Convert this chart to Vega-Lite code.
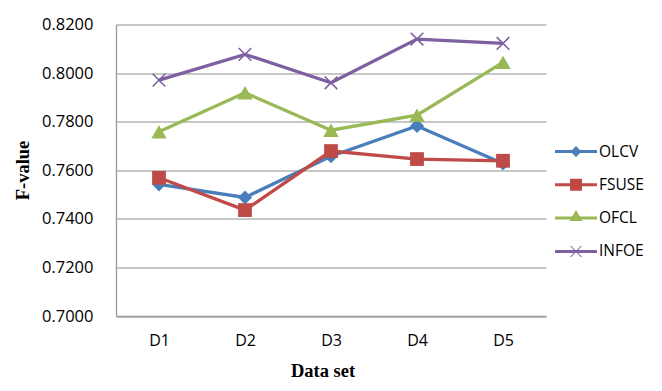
{
  "$schema": "https://vega.github.io/schema/vega-lite/v6.json",
  "width": 430,
  "height": 291.5,
  "autosize": {"type": "none"},
  "padding": {"left": 116, "top": 24.5, "right": 116, "bottom": 75},
  "background": "white",
  "config": {"view": {"stroke": null}},
  "data": {
    "values": [
      {"series": "OLCV", "dataset": "D1", "value": 0.7542},
      {"series": "OLCV", "dataset": "D2", "value": 0.7488},
      {"series": "OLCV", "dataset": "D3", "value": 0.7658},
      {"series": "OLCV", "dataset": "D4", "value": 0.7782},
      {"series": "OLCV", "dataset": "D5", "value": 0.7628},
      {"series": "FSUSE", "dataset": "D1", "value": 0.7569},
      {"series": "FSUSE", "dataset": "D2", "value": 0.7436},
      {"series": "FSUSE", "dataset": "D3", "value": 0.7679},
      {"series": "FSUSE", "dataset": "D4", "value": 0.7646},
      {"series": "FSUSE", "dataset": "D5", "value": 0.7639},
      {"series": "OFCL", "dataset": "D1", "value": 0.7758},
      {"series": "OFCL", "dataset": "D2", "value": 0.7919},
      {"series": "OFCL", "dataset": "D3", "value": 0.7765},
      {"series": "OFCL", "dataset": "D4", "value": 0.7827},
      {"series": "OFCL", "dataset": "D5", "value": 0.8044},
      {"series": "INFOE", "dataset": "D1", "value": 0.7971},
      {"series": "INFOE", "dataset": "D2", "value": 0.8077},
      {"series": "INFOE", "dataset": "D3", "value": 0.7960},
      {"series": "INFOE", "dataset": "D4", "value": 0.8140},
      {"series": "INFOE", "dataset": "D5", "value": 0.8122}
    ]
  },
  "encoding": {
    "x": {
      "field": "dataset", "type": "nominal",
      "scale": {"type": "point", "padding": 0.5},
      "axis": {
        "title": "Data set", "labelAngle": 0, "labelFont": "Open Sans", "labelFontSize": 16,
        "labelColor": "#000", "labelBaseline": "middle", "labelPadding": 24.5,
        "ticks": false, "tickSize": 0, "domainColor": "#9a9a9a", "domainWidth": 1.3, "grid": false,
        "titleFont": "Liberation Serif", "titleFontSize": 18.5, "titleFontWeight": "bold", "titleColor": "#000",
        "titleX": 206.5, "titleY": 60, "titleBaseline": "alphabetic", "titleAlign": "center"
      }
    },
    "y": {
      "field": "value", "type": "quantitative",
      "scale": {"domain": [0.7, 0.82], "zero": false, "nice": false},
      "axis": {
        "title": "F-value", "values": [0.7, 0.72, 0.74, 0.76, 0.78, 0.8, 0.82], "format": ".4f",
        "labelFont": "Open Sans", "labelFontSize": 16.5, "labelColor": "#000", "labelPadding": 23,
        "ticks": false, "tickSize": 0, "domainColor": "#9a9a9a", "domainWidth": 1.3,
        "gridColor": "#b5b5b5", "gridWidth": 1.3,
        "titleFont": "Liberation Serif", "titleFontSize": 18.5, "titleFontWeight": "bold", "titleColor": "#000",
        "titleAngle": -90, "titleX": -88, "titleY": 145.5, "titleAlign": "center", "titleBaseline": "alphabetic"
      }
    }
  },
  "layer": [
    {
      "mark": {"type": "line", "strokeWidth": 3.3},
      "encoding": {
        "color": {"field": "series", "type": "nominal",
          "scale": {"range": ["#be4b48", "#7d60a0", "#98b954", "#4a7ebb"]},
          "legend": null}
      }
    },
    {
      "transform": [{"filter": "datum.series === 'OLCV'"}],
      "mark": {"type": "point", "shape": "diamond", "filled": true, "size": 200, "opacity": 1},
      "encoding": {"color": {"field": "series", "type": "nominal", "legend": null}}
    },
    {
      "transform": [{"filter": "datum.series === 'FSUSE'"}],
      "mark": {"type": "point", "shape": "square", "filled": true, "size": 190, "opacity": 1},
      "encoding": {"color": {"field": "series", "type": "nominal", "legend": null}}
    },
    {
      "transform": [{"filter": "datum.series === 'OFCL'"}],
      "mark": {"type": "point", "shape": "triangle-up", "filled": true, "size": 240, "opacity": 1},
      "encoding": {"color": {"field": "series", "type": "nominal", "legend": null}}
    },
    {
      "transform": [{"filter": "datum.series === 'INFOE'"}],
      "mark": {"type": "point", "shape": "M-1,-1L1,1M-1,1L1,-1", "filled": false, "size": 160, "strokeWidth": 1.6, "opacity": 1},
      "encoding": {"color": {"field": "series", "type": "nominal", "legend": null}}
    },
    {
      "mark": {"type": "point", "filled": true, "opacity": 0},
      "encoding": {
        "fill": {"field": "series", "type": "nominal",
          "scale": {"domain": ["OLCV", "FSUSE", "OFCL", "INFOE"], "range": ["#4a7ebb", "#be4b48", "#98b954", "#7d60a0"]},
          "legend": {"title": null, "orient": "none", "legendX": 450, "legendY": 117, "symbolSize": 400, "symbolOpacity": 1,
            "symbolStrokeWidth": 0, "labelFont": "Open Sans", "labelFontSize": 15.5, "labelColor": "#000", "labelOffset": 13,
            "rowPadding": 14.3, "padding": 0}},
        "shape": {"field": "series", "type": "nominal",
          "scale": {"domain": ["OLCV", "FSUSE", "OFCL", "INFOE"], "range": [
            "M-2.1,-0.15H2.1V0.15H-2.1Z M0,-0.55L0.55,0L0,0.55L-0.55,0Z",
            "M-2.1,-0.15H2.1V0.15H-2.1Z M-0.6,-0.6H0.6V0.6H-0.6Z",
            "M-2.1,-0.15H2.1V0.15H-2.1Z M0,-0.8L0.65,0.3L-0.65,0.3Z",
            "M-2.1,-0.15H2.1V0.15H-2.1Z M-0.6,-0.55L-0.48,-0.55L0.6,0.55L0.48,0.55Z M0.48,-0.55L0.6,-0.55L-0.48,0.55L-0.6,0.55Z"
          ]},
          "legend": {"title": null, "orient": "none", "legendX": 450, "legendY": 117, "symbolSize": 400, "symbolOpacity": 1,
            "symbolStrokeWidth": 0, "labelFont": "Open Sans", "labelFontSize": 15.5, "labelColor": "#000", "labelOffset": 13,
            "rowPadding": 14.3, "padding": 0}}
      }
    }
  ]
}
